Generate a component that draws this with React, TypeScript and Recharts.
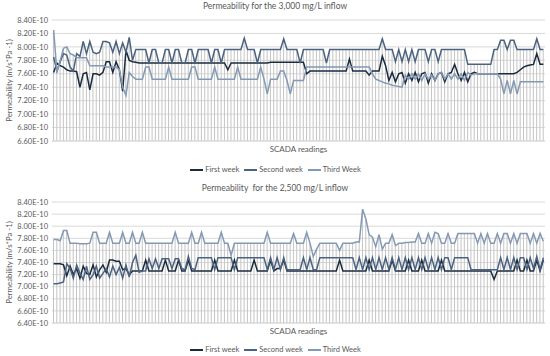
import { ComposedChart, Line, Bar, XAxis, YAxis, CartesianGrid, Legend } from "recharts";

// legend entries, same order for both panels
const seriesNames = ["First week", "Second week", "Third Week"];
const seriesColors = ["#1B2B3C", "#4B6380", "#8499B4"];

// permeability values in units of 1E-10 m/s*Pa-1, one per SCADA reading
const firstWeek3000 = [
  7.62, 7.76, 7.72, 7.70, 7.66, 7.64, 7.64, 7.63, 7.40, 7.60,
  7.62, 7.36, 7.60, 7.60, 7.58, 7.62, 7.78, 7.78, 7.62, 7.78,
  7.66, 7.34, 7.95, 7.80, 7.78, 7.77, 7.76, 7.76, 7.76, 7.76,
  7.76, 7.76, 7.76, 7.76, 7.76, 7.76, 7.76, 7.76, 7.76, 7.76,
  7.76, 7.76, 7.76, 7.76, 7.76, 7.76, 7.76, 7.76, 7.76, 7.76,
  7.76, 7.76, 7.76, 7.66, 7.76, 7.76, 7.76, 7.76, 7.76, 7.76,
  7.76, 7.76, 7.76, 7.76, 7.76, 7.76, 7.77, 7.77, 7.77, 7.77,
  7.77, 7.77, 7.77, 7.77, 7.77, 7.77, 7.77, 7.60, 7.64, 7.64,
  7.64, 7.64, 7.64, 7.64, 7.64, 7.64, 7.64, 7.64, 7.64, 7.64,
  7.82, 7.64, 7.64, 7.64, 7.64, 7.64, 7.58, 7.64, 7.64, 7.64,
  7.86, 7.72, 7.50, 7.62, 7.48, 7.60, 7.62, 7.46, 7.60, 7.50,
  7.62, 7.48, 7.60, 7.62, 7.46, 7.60, 7.50, 7.60, 7.62, 7.48,
  7.60, 7.62, 7.74, 7.60, 7.50, 7.62, 7.48, 7.60, 7.62, 7.60,
  7.60, 7.60, 7.60, 7.60, 7.60, 7.60, 7.60, 7.60, 7.60, 7.60,
  7.60, 7.62, 7.66, 7.70, 7.72, 7.73, 7.74, 7.90, 7.74, 7.74,
];

const secondWeek3000 = [
  7.85, 7.64, 7.78, 7.90, 7.88, 7.70, 7.64, 7.90, 7.86, 8.08,
  7.90, 8.08, 7.92, 7.90, 7.92, 8.08, 8.08, 8.06, 7.92, 8.08,
  7.90, 8.06, 7.92, 8.14, 7.80, 7.96, 7.96, 7.96, 7.96, 7.76,
  7.96, 7.96, 7.76, 7.76, 7.96, 7.96, 7.76, 7.96, 7.96, 7.76,
  7.76, 7.96, 7.96, 7.76, 7.96, 7.96, 7.96, 7.96, 7.76, 7.96,
  7.96, 7.76, 7.96, 7.96, 7.96, 7.96, 7.96, 7.96, 8.13, 7.96,
  7.96, 7.96, 7.76, 7.96, 7.96, 7.96, 7.96, 7.96, 7.96, 7.96,
  8.12, 7.96, 7.96, 7.96, 7.96, 7.76, 7.96, 7.96, 7.96, 7.96,
  7.96, 7.96, 7.96, 7.76, 7.96, 7.96, 7.96, 7.96, 7.96, 7.96,
  7.96, 7.96, 7.96, 7.96, 7.96, 7.96, 7.96, 7.96, 7.96, 7.96,
  8.12, 7.96, 7.96, 7.96, 7.78, 7.96, 7.78, 7.96, 7.78, 7.96,
  7.78, 7.96, 7.96, 7.96, 7.78, 7.96, 7.96, 7.78, 7.96, 7.96,
  7.96, 7.96, 7.96, 7.96, 7.96, 7.96, 7.74, 7.74, 7.74, 7.74,
  7.74, 7.74, 7.74, 7.74, 7.96, 7.96, 8.10, 8.10, 7.96, 8.10,
  8.10, 7.96, 7.96, 7.96, 7.96, 7.96, 7.96, 8.12, 7.96, 7.96,
];

const thirdWeek3000 = [
  8.25, 7.62, 7.80, 7.98, 8.00, 7.90, 7.88, 7.84, 7.84, 7.84,
  7.84, 7.72, 7.72, 7.72, 7.72, 7.72, 7.70, 7.70, 7.70, 7.70,
  7.66, 7.40, 7.28, 7.62, 7.56, 7.52, 7.52, 7.52, 7.70, 7.70,
  7.52, 7.52, 7.52, 7.52, 7.52, 7.70, 7.52, 7.52, 7.52, 7.52,
  7.52, 7.52, 7.70, 7.70, 7.52, 7.52, 7.52, 7.52, 7.52, 7.70,
  7.52, 7.52, 7.52, 7.52, 7.52, 7.52, 7.70, 7.52, 7.52, 7.52,
  7.52, 7.52, 7.52, 7.70, 7.52, 7.30, 7.52, 7.52, 7.52, 7.64,
  7.64, 7.50, 7.30, 7.50, 7.50, 7.50, 7.50, 7.70, 7.70, 7.70,
  7.70, 7.70, 7.70, 7.70, 7.70, 7.70, 7.70, 7.70, 7.70, 7.70,
  7.70, 7.70, 7.70, 7.70, 7.70, 7.70, 7.70, 7.60, 7.52, 7.50,
  7.48, 7.46, 7.45, 7.43, 7.42, 7.41, 7.40, 7.58, 7.52, 7.60,
  7.52, 7.60, 7.50, 7.60, 7.52, 7.58, 7.50, 7.60, 7.62, 7.52,
  7.60, 7.52, 7.60, 7.52, 7.60, 7.50, 7.62, 7.58, 7.60, 7.60,
  7.60, 7.60, 7.60, 7.60, 7.60, 7.60, 7.52, 7.30, 7.50, 7.30,
  7.50, 7.30, 7.48, 7.48, 7.48, 7.48, 7.48, 7.48, 7.48, 7.48,
];

const firstWeek2500 = [
  7.38, 7.38, 7.38, 7.36, 7.18, 7.34, 7.20, 7.30, 7.14, 7.34,
  7.22, 7.20, 7.36, 7.16, 7.28, 7.36, 7.24, 7.44, 7.44, 7.42,
  7.42, 7.28, 7.30, 7.20, 7.26, 7.26, 7.26, 7.26, 7.44, 7.26,
  7.26, 7.26, 7.26, 7.26, 7.44, 7.26, 7.26, 7.26, 7.44, 7.26,
  7.26, 7.44, 7.26, 7.26, 7.26, 7.26, 7.26, 7.26, 7.26, 7.44,
  7.26, 7.26, 7.26, 7.26, 7.26, 7.44, 7.26, 7.26, 7.26, 7.26,
  7.26, 7.44, 7.26, 7.26, 7.26, 7.26, 7.44, 7.26, 7.30, 7.30,
  7.44, 7.26, 7.26, 7.26, 7.26, 7.26, 7.26, 7.26, 7.26, 7.26,
  7.26, 7.26, 7.26, 7.26, 7.26, 7.26, 7.26, 7.44, 7.26, 7.26,
  7.26, 7.26, 7.26, 7.26, 7.26, 7.26, 7.44, 7.26, 7.26, 7.26,
  7.26, 7.26, 7.26, 7.44, 7.26, 7.26, 7.26, 7.26, 7.44, 7.26,
  7.26, 7.26, 7.44, 7.26, 7.26, 7.26, 7.26, 7.26, 7.44, 7.26,
  7.26, 7.26, 7.26, 7.26, 7.26, 7.26, 7.26, 7.26, 7.26, 7.26,
  7.26, 7.26, 7.26, 7.26, 7.12, 7.26, 7.26, 7.26, 7.26, 7.26,
  7.26, 7.44, 7.26, 7.26, 7.44, 7.26, 7.26, 7.44, 7.26, 7.44,
];

const secondWeek2500 = [
  7.05, 7.05, 7.06, 7.08, 7.38, 7.30, 7.14, 7.36, 7.22, 7.12,
  7.34, 7.12, 7.20, 7.34, 7.14, 7.22, 7.30, 7.16, 7.34, 7.20,
  7.32, 7.14, 7.36, 7.16, 7.40, 7.52, 7.24, 7.26, 7.26, 7.46,
  7.30, 7.46, 7.30, 7.46, 7.46, 7.46, 7.30, 7.46, 7.46, 7.30,
  7.28, 7.50, 7.30, 7.28, 7.48, 7.48, 7.48, 7.48, 7.48, 7.28,
  7.48, 7.48, 7.48, 7.48, 7.48, 7.28, 7.48, 7.48, 7.48, 7.48,
  7.48, 7.48, 7.48, 7.48, 7.48, 7.28, 7.48, 7.28, 7.48, 7.28,
  7.48, 7.28, 7.28, 7.28, 7.28, 7.28, 7.48, 7.28, 7.48, 7.28,
  7.28, 7.48, 7.48, 7.48, 7.48, 7.48, 7.48, 7.48, 7.48, 7.48,
  7.48, 7.48, 7.28, 7.48, 7.28, 7.48, 7.28, 7.48, 7.28, 7.48,
  7.28, 7.48, 7.28, 7.48, 7.28, 7.48, 7.28, 7.48, 7.28, 7.48,
  7.28, 7.48, 7.28, 7.48, 7.28, 7.48, 7.28, 7.48, 7.28, 7.48,
  7.48, 7.28, 7.48, 7.48, 7.48, 7.48, 7.48, 7.28, 7.28, 7.28,
  7.28, 7.28, 7.28, 7.28, 7.28, 7.28, 7.48, 7.28, 7.48, 7.28,
  7.48, 7.28, 7.48, 7.48, 7.28, 7.48, 7.30, 7.50, 7.28, 7.48,
];

const thirdWeek2500 = [
  7.78, 7.78, 7.76, 7.93, 7.93, 7.72, 7.72, 7.72, 7.71, 7.71,
  7.71, 7.72, 7.90, 7.90, 7.72, 7.72, 7.72, 7.90, 7.72, 7.72,
  7.72, 7.90, 7.72, 7.72, 7.90, 7.72, 7.72, 7.90, 7.72, 7.72,
  7.72, 7.72, 7.72, 7.72, 7.72, 7.72, 7.72, 7.90, 7.72, 7.72,
  7.72, 7.72, 7.90, 7.72, 7.72, 7.90, 7.72, 7.72, 7.72, 7.72,
  7.72, 7.90, 7.72, 7.72, 7.52, 7.72, 7.72, 7.72, 7.72, 7.72,
  7.72, 7.72, 7.72, 7.72, 7.72, 7.90, 7.72, 7.72, 7.72, 7.72,
  7.72, 7.72, 7.72, 7.88, 7.72, 7.72, 7.72, 7.90, 7.72, 7.50,
  7.62, 7.72, 7.72, 7.72, 7.72, 7.72, 7.72, 7.60, 7.72, 7.72,
  7.72, 7.72, 7.74, 7.74, 8.28, 8.12, 7.86, 7.82, 7.66, 7.86,
  7.62, 7.72, 7.72, 7.86, 7.68, 7.72, 7.72, 7.73, 7.73, 7.74,
  7.74, 7.88, 7.72, 7.72, 7.88, 7.72, 7.90, 7.88, 7.72, 7.72,
  7.88, 7.72, 7.72, 7.88, 7.88, 7.88, 7.88, 7.88, 7.88, 7.72,
  7.88, 7.72, 7.88, 7.72, 7.72, 7.88, 7.72, 7.88, 7.88, 7.72,
  7.88, 7.72, 7.88, 7.88, 7.88, 7.72, 7.88, 7.72, 7.88, 7.75,
];

const ticks3000 = [6.6, 6.8, 7.0, 7.2, 7.4, 7.6, 7.8, 8.0, 8.2, 8.4];
const ticks2500 = [6.4, 6.6, 6.8, 7.0, 7.2, 7.4, 7.6, 7.8, 8.0, 8.2, 8.4];

const font = "Lato, 'Open Sans', sans-serif";
const grey = "#595959";

type Row = { reading: number; first: number; second: number; third: number };

function buildRows(first: number[], second: number[], third: number[]): Row[] {
  return first.map((v, i) => ({ reading: i + 1, first: v, second: second[i], third: third[i] }));
}

function LegendRow({ height }: { height: number }) {
  return (
    <div
      style={{
        height,
        boxSizing: "border-box",
        paddingTop: 10,
        paddingLeft: 6,
        display: "flex",
        justifyContent: "center",
        gap: 5,
        fontFamily: font,
        fontSize: 7.5,
        lineHeight: "10px",
        color: grey,
      }}
    >
      {seriesNames.map((name, i) => (
        <span key={name} style={{ display: "flex", alignItems: "center" }}>
          <span style={{ width: 13, height: 2, background: seriesColors[i], marginRight: 2 }} />
          {name}
        </span>
      ))}
    </div>
  );
}

type PanelProps = {
  title: string;
  rows: Row[];
  ticks: number[];
  top: number;
  titleTop: number;
  legendHeight: number;
};

function PermeabilityChart({ title, rows, ticks, top, titleTop, legendHeight }: PanelProps) {
  const floor = ticks[0];
  const keys = ["first", "second", "third"] as const;

  return (
    <div style={{ position: "relative", width: 550, height: 178 }}>
      <div
        style={{
          position: "absolute",
          top: titleTop,
          left: 0,
          width: 550,
          textAlign: "center",
          fontFamily: font,
          fontSize: 8.5,
          lineHeight: "12px",
          color: grey,
          whiteSpace: "pre",
        }}
      >
        {title}
      </div>
      <ComposedChart width={550} height={178} data={rows} margin={{ top, right: 5, left: 0, bottom: 0 }}>
        <CartesianGrid vertical={false} stroke="#D9D9D9" />
        <XAxis
          dataKey="reading"
          tick={false}
          tickLine={false}
          axisLine={{ stroke: "#D9D9D9" }}
          height={11}
          label={{ value: "SCADA readings", position: "insideBottom", offset: 0, fontSize: 8, fill: grey, fontFamily: font }}
        />
        <YAxis
          domain={[ticks[0], ticks[ticks.length - 1]]}
          ticks={ticks}
          interval={0}
          tickFormatter={(v: number) => v.toFixed(2) + "E-10"}
          width={52}
          tickSize={0}
          tickMargin={4}
          axisLine={false}
          tickLine={false}
          tick={{ fontSize: 7.5, fill: grey, fontFamily: font }}
          label={{
            value: "Permeability (m/s*Pa -1)",
            angle: -90,
            position: "insideLeft",
            offset: 9,
            fontSize: 7.8,
            fill: grey,
            fontFamily: font,
            style: { textAnchor: "middle" },
          }}
        />
        {/* drop lines from the highest week down to the axis */}
        <Bar
          dataKey={(d: Row) => [floor, Math.max(d.first, d.second, d.third)]}
          barSize={1}
          fill="#C4C4C4"
          legendType="none"
          isAnimationActive={false}
        />
        {keys.map((k, i) => (
          <Line
            key={k}
            type="linear"
            dataKey={k}
            name={seriesNames[i]}
            stroke={seriesColors[i]}
            strokeWidth={1.5}
            dot={false}
            isAnimationActive={false}
          />
        ))}
        <Legend verticalAlign="bottom" height={legendHeight} content={() => <LegendRow height={legendHeight} />} />
      </ComposedChart>
    </div>
  );
}

export default function App() {
  return (
    <div style={{ position: "absolute", left: 0, top: 0, width: 550, height: 356, background: "#fff" }}>
      <PermeabilityChart
        title="Permeability for the 3,000 mg/L inflow"
        rows={buildRows(firstWeek3000, secondWeek3000, thirdWeek3000)}
        ticks={ticks3000}
        top={20}
        titleTop={0}
        legendHeight={26}
      />
      <PermeabilityChart
        title="Permeability  for the 2,500 mg/L inflow"
        rows={buildRows(firstWeek2500, secondWeek2500, thirdWeek2500)}
        ticks={ticks2500}
        top={24}
        titleTop={4}
        legendHeight={22}
      />
    </div>
  );
}
